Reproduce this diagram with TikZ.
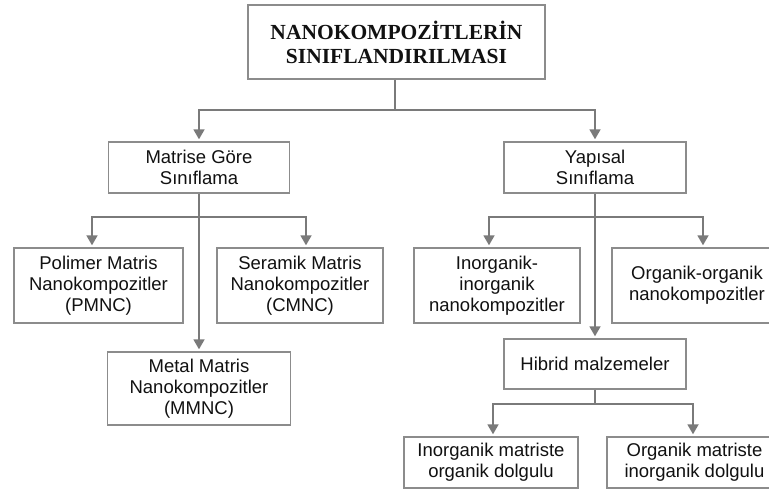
\documentclass[tikz,border=0pt]{standalone}
\usepackage{fontspec}
\setmainfont{Liberation Sans}
\newfontfamily\titlefont{Liberation Serif}
\usetikzlibrary{arrows.meta}
\definecolor{linegray}{HTML}{7A7A7A}
\definecolor{boxgray}{HTML}{8C8C8C}
\definecolor{txt}{HTML}{111111}
\tikzset{
  box/.style={draw=boxgray, line width=1.4pt, fill=white, align=center, text=txt,
    inner sep=0pt, font=\fontsize{18.5}{21}\selectfont},
  conn/.style={draw=linegray, line width=1.8pt},
  arr/.style={conn, -{Triangle[width=11pt,length=10pt]}, shorten >=2pt},
}
\begin{document}
\begin{tikzpicture}[x=1pt,y=-1pt]
\useasboundingbox (0,0) rectangle (769,493);
\clip (0,0) rectangle (769,493);

\node[box, minimum width=297pt, minimum height=74pt, font=\titlefont\bfseries\fontsize{21.5}{24}\selectfont]
  (top) at (396.5,42) {NANOKOMPOZİTLERİN\\SINIFLANDIRILMASI};

\node[box, minimum width=181pt, minimum height=51pt] (mat) at (199,167.5) {Matrise Göre\\Sınıflama};
\node[box, minimum width=182pt, minimum height=51pt] (yap) at (595,167.5) {Yapısal\\Sınıflama};

\node[box, minimum width=169pt, minimum height=75pt] (pol) at (98.5,285.5) {Polimer Matris\\Nanokompozitler\\(PMNC)};
\node[box, minimum width=166pt, minimum height=75pt] (ser) at (300,285.5) {Seramik Matris\\Nanokompozitler\\(CMNC)};
\node[box, minimum width=183pt, minimum height=73pt] (met) at (199,388.5) {Metal Matris\\Nanokompozitler\\(MMNC)};

\node[box, minimum width=166pt, minimum height=75pt] (ino) at (497,285.5) {Inorganik-\\inorganik\\nanokompozitler};
\node[box, minimum width=170pt, minimum height=75pt] (org) at (697,285.5) {Organik-organik\\nanokompozitler};
\node[box, minimum width=182pt, minimum height=50pt] (hib) at (595,364) {Hibrid malzemeler};

\node[box, minimum width=174pt, minimum height=51pt] (im) at (491,462.5) {Inorganik matriste\\organik dolgulu};
\node[box, minimum width=175pt, minimum height=51pt] (om) at (694.5,462.5) {Organik matriste\\inorganik dolgulu};

% level 1
\coordinate (j0) at (395,110);
\draw[conn] (top.south -| j0) -- (j0);
\draw[arr] (j0) -| (mat.north);
\draw[arr] (j0) -| (yap.north);

% level 2 left
\coordinate (jL) at (199,217);
\draw[arr] (mat.south) -- (met.north);
\draw[arr] (jL) -| ([xshift=-6.5pt]pol.north);
\draw[arr] (jL) -| ([xshift=6pt]ser.north);

% level 2 right
\coordinate (jR) at (595,217);
\draw[arr] (yap.south) -- (hib.north);
\draw[arr] (jR) -| ([xshift=-8pt]ino.north);
\draw[arr] (jR) -| ([xshift=6pt]org.north);

% level 3
\coordinate (jH) at (595,404);
\draw[conn] (hib.south) -- (jH);
\draw[arr] (jH) -| ([xshift=2pt]im.north);
\draw[arr] (jH) -| ([xshift=-1.5pt]om.north);
\end{tikzpicture}
\end{document}
